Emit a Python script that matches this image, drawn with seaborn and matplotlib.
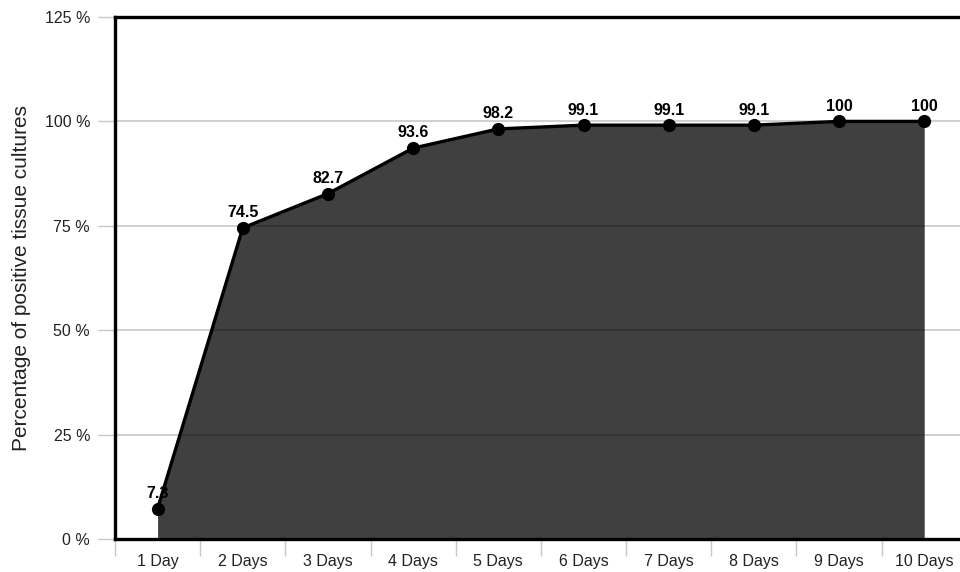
"""Cumulative share of positive tissue cultures by incubation day."""

import matplotlib
import numpy as np
import pandas as pd
import seaborn as sns

matplotlib.use("Agg")
import matplotlib.pyplot as plt

days = ["1 Day", "2 Days", "3 Days", "4 Days", "5 Days",
        "6 Days", "7 Days", "8 Days", "9 Days", "10 Days"]
positive_pct = [7.3, 74.5, 82.7, 93.6, 98.2, 99.1, 99.1, 99.1, 100, 100]
value_labels = ["7.3", "74.5", "82.7", "93.6", "98.2", "99.1", "99.1", "99.1", "100", "100"]
y_ticks = [0, 25, 50, 75, 100, 125]
y_ticklabels = ["0 %", "25 %", "50 %", "75 %", "100 %", "125 %"]


def main() -> None:
    sns.set_theme(style="white")
    plt.rcParams["font.family"] = ["Liberation Sans", "DejaVu Sans"]

    df = pd.DataFrame({"day": days, "pos": np.arange(len(days)), "pct": positive_pct})

    fig = plt.figure(figsize=(9.6, 5.72), dpi=100)
    ax = fig.add_axes([0.1198, 0.0577, 0.8802, 0.9126])

    ax.fill_between(df["pos"], 0, df["pct"], color="#404040", linewidth=0, zorder=1)
    for y in y_ticks[1:-1]:
        ax.axhline(y, color="black", alpha=0.22, linewidth=1.2, zorder=2)
    sns.lineplot(data=df, x="pos", y="pct", color="black", linewidth=2.4,
                 marker="o", markersize=9.5, markeredgewidth=0, ax=ax, zorder=3)

    for x, y, txt in zip(df["pos"], df["pct"], value_labels):
        ax.annotate(txt, (x, y), xytext=(0, 5.5), textcoords="offset points",
                    ha="center", va="bottom", fontsize=11.5, fontweight="bold",
                    color="black")

    ax.set_xlim(-0.5, 9.42)
    ax.set_ylim(0, 125)
    ax.set_xticks(df["pos"])
    ax.set_xticklabels(days, fontsize=11.5, color="#222222")
    ax.set_xticks(np.arange(len(days)) - 0.5, minor=True)
    ax.set_yticks(y_ticks)
    ax.set_yticklabels(y_ticklabels, fontsize=11.5, color="#222222")
    ax.tick_params(axis="x", which="major", length=0, pad=11)
    ax.tick_params(axis="x", which="minor", length=12, width=1, color="#c8c8c8",
                   bottom=True)
    ax.tick_params(axis="y", length=12, width=1, color="#c8c8c8", left=True, pad=6)

    ax.set_xlabel("")
    ax.set_ylabel("Percentage of positive tissue cultures", fontsize=15,
                  color="#222222", labelpad=10)

    for side in ["left", "top", "bottom"]:
        ax.spines[side].set_color("black")
        ax.spines[side].set_linewidth(2.4)
        ax.spines[side].set_zorder(4)
    ax.spines["right"].set_visible(False)

    fig.savefig("out.png", dpi=100)
    plt.close(fig)


if __name__ == "__main__":
    main()
